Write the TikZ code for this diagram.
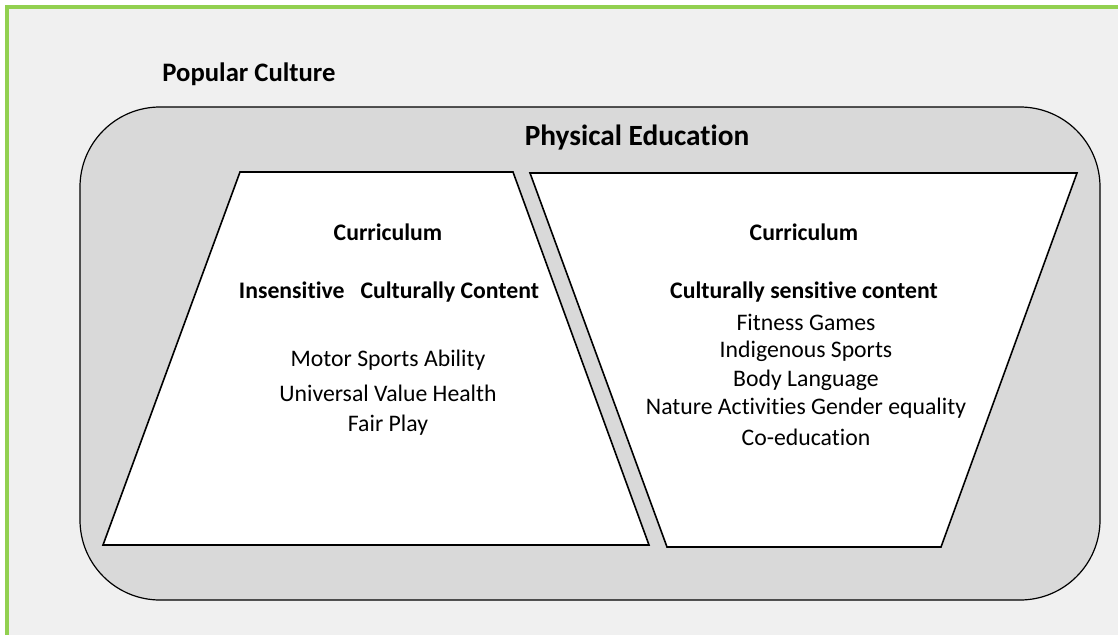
\documentclass[tikz,border=0pt]{standalone}
\usepackage{fontspec}
\setmainfont{Carlito}[RawFeature=-liga,RawFeature=-clig,RawFeature=-calt]
\definecolor{framegreen}{HTML}{92D050}
\definecolor{pagegray}{HTML}{F0F0F0}
\definecolor{boxgray}{HTML}{D9D9D9}
\tikzset{
	title/.style={font=\fontsize{20}{24}\selectfont\bfseries},
	head/.style={font=\fontsize{17.8}{21}\selectfont\bfseries},
	item/.style={font=\fontsize{17.8}{21}\selectfont, inner sep=0pt},
	panel/.style={draw, fill=white, line width=1.2pt, line join=miter},
}
\begin{document}
\begin{tikzpicture}[x=0.75pt,y=-0.75pt]
	\useasboundingbox (0,0) rectangle (1118,635);
	% page and frame
	\fill [pagegray] (7,7) rectangle (1140,660);
	\draw [framegreen,line width=2.3pt] (7,660) -- (7,7) -- (1140,7);
	\node [title] at (249,74) (popular) {Popular Culture};
	% physical education box
	\draw [fill=boxgray,line width=0.9pt,rounded corners=60] (80,107) rectangle (1100,600);
	\node [title,font=\fontsize{22}{26}\selectfont\bfseries] at (637,138) (physed) {Physical Education};
	% the two curricula
	\draw [panel] (240,172) -- (513,172) -- (649,545) -- (103,545) -- cycle;
	\draw [panel] (530,173) -- (1077,173) -- (941,547) -- (667,547) -- cycle;
	\node [head] at (388,232) (curl) {Curriculum};
	\node [head] at (389,292) (insens) {Insensitive\hspace{0.45em} Culturally Content};
	\foreach \t/\y in {Motor Sports Ability/360, Universal Value Health/393, Fair Play/425}{
		\node [item] at (388,\y) {\t};
	}
	\node [head] at (804,232) (curr) {Curriculum};
	\node [head] at (804,292) (sens) {Culturally sensitive content};
	\foreach \t/\y in {Fitness Games/322, Indigenous Sports/351, Body Language/380,
		Nature Activities Gender equality/408, Co-education/437}{
		\node [item] at (806,\y) {\t};
	}
\end{tikzpicture}
\end{document}
